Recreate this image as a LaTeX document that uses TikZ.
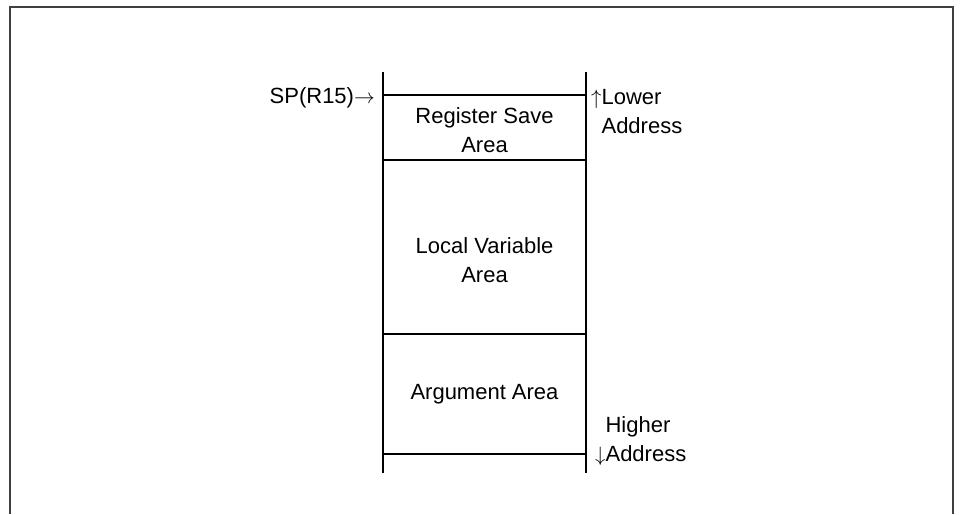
\documentclass[tikz,border=0pt]{standalone}
\usepackage{fontspec}
\setmainfont{Liberation Sans}
\begin{document}
\begin{tikzpicture}[x=1pt,y=-1pt,
  frame/.style={draw=black!75, line width=2pt},
  wall/.style={draw=black, line width=2pt},
  txt/.style={font=\fontsize{22}{29}\selectfont, inner sep=0pt, align=center},
  side/.style={font=\fontsize{22}{29}\selectfont, inner sep=0pt, align=left}]
\useasboundingbox (0,0) rectangle (960,514);
% outer frame (open at the bottom)
\coordinate (fbl) at (10,514);
\coordinate (ftl) at (10,7);
\coordinate (ftr) at (953,7);
\coordinate (fbr) at (953,514);
\draw[frame] (fbl) -- (ftl) -- (ftr) -- (fbr);
% stack walls
\coordinate (lt) at (383,72);
\coordinate (lb) at (383,473);
\coordinate (rt) at (586,72);
\coordinate (rb) at (586,473);
\draw[wall] (lt) -- (lb);
\draw[wall] (rt) -- (rb);
% separators
\coordinate (l1) at (383,95);   \coordinate (r1) at (586,95);
\coordinate (l2) at (383,160);  \coordinate (r2) at (586,160);
\coordinate (l3) at (383,334);  \coordinate (r3) at (586,334);
\coordinate (l4) at (383,454);  \coordinate (r4) at (586,454);
\draw[wall] (l1) -- (r1);
\draw[wall] (l2) -- (r2);
\draw[wall] (l3) -- (r3);
\draw[wall] (l4) -- (r4);
% area labels
\node[txt] (reg) at (484.5,130.5) {Register Save\\Area};
\node[txt] (loc) at (484.5,260) {Local Variable\\Area};
\node[txt] (arg) at (484.5,394) {Argument Area};
% side labels
\node[txt, anchor=east] (sp) at (375,98) {SP(R15)$\rightarrow$};
\node[side, anchor=west] (low) at (591,113) {$\uparrow$Lower\\\phantom{$\uparrow$}Address};
\node[side, anchor=west] (high) at (595,441) {\phantom{$\downarrow$}Higher\\$\downarrow$Address};
\end{tikzpicture}
\end{document}
